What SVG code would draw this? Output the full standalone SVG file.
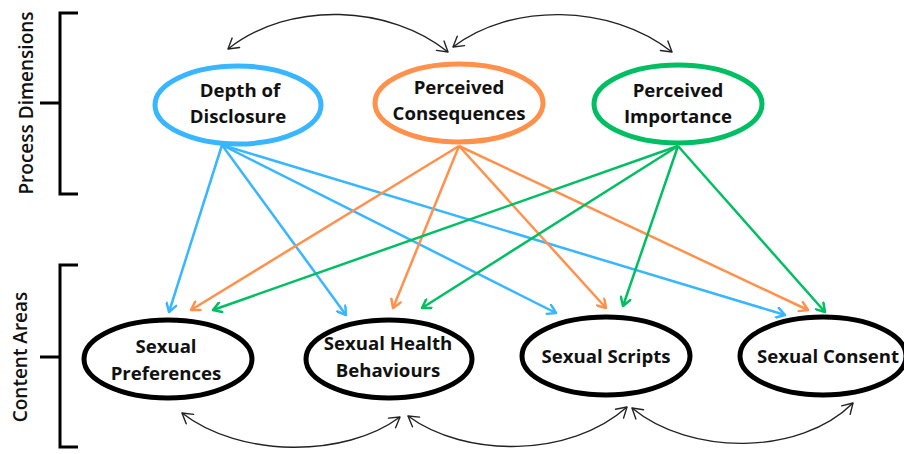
<svg xmlns="http://www.w3.org/2000/svg" width="904" height="454" viewBox="0 0 904 454">
  <style>
    .lbl { font-family: "Open Sans", "Liberation Sans", sans-serif; font-weight: 700; font-size: 18.6px; fill: #111; text-anchor: middle; }
    .side { font-family: "Open Sans", "Liberation Sans", sans-serif; font-weight: 600; font-size: 19px; fill: #111; text-anchor: middle; }
    .bracket { fill: none; stroke: #000; stroke-width: 3; }
    .node { fill: #fff; stroke-width: 5; }
    .blue { stroke: #38b6ff; }
    .orange { stroke: #ff914d; }
    .green { stroke: #00bf63; }
    .black { stroke: #000; }
    .link { fill: none; stroke-width: 2.5; }
    .arc { fill: none; stroke: #222; stroke-width: 1.4; }
  </style>
  <defs>
    <marker id="hBlue" viewBox="0 0 12 12" refX="10" refY="6" markerWidth="12" markerHeight="12" markerUnits="userSpaceOnUse" orient="auto">
      <polyline points="2,1 10,6 2,11" fill="none" stroke="#38b6ff" stroke-width="2.5" stroke-linecap="round" stroke-linejoin="round"/>
    </marker>
    <marker id="hOrange" viewBox="0 0 12 12" refX="10" refY="6" markerWidth="12" markerHeight="12" markerUnits="userSpaceOnUse" orient="auto">
      <polyline points="2,1 10,6 2,11" fill="none" stroke="#ff914d" stroke-width="2.5" stroke-linecap="round" stroke-linejoin="round"/>
    </marker>
    <marker id="hGreen" viewBox="0 0 12 12" refX="10" refY="6" markerWidth="12" markerHeight="12" markerUnits="userSpaceOnUse" orient="auto">
      <polyline points="2,1 10,6 2,11" fill="none" stroke="#00bf63" stroke-width="2.5" stroke-linecap="round" stroke-linejoin="round"/>
    </marker>
    <marker id="hBlack" viewBox="0 0 14 14" refX="12" refY="7" markerWidth="14" markerHeight="14" markerUnits="userSpaceOnUse" orient="auto-start-reverse">
      <polyline points="2,1 12,7 2,13" fill="none" stroke="#222" stroke-width="1.4" stroke-linecap="round" stroke-linejoin="round"/>
    </marker>
  </defs>

  <rect width="904" height="454" fill="#fff"/>

  <!-- side brackets and group labels -->
  <g id="process-dimensions">
    <path class="bracket" d="M78,13 H60 V194 H78 M40,103 H60"/>
    <text class="side" transform="translate(33,103) rotate(-90)">Process Dimensions</text>
  </g>
  <g id="content-areas">
    <path class="bracket" d="M78,265 H60 V447 H78 M40,357 H60"/>
    <text class="side" transform="translate(27,357) rotate(-90)">Content Areas</text>
  </g>

  <!-- connectors -->
  <g id="connectors">
    <!-- from Depth of Disclosure -->
    <line class="link blue" x1="222" y1="145" x2="169" y2="312" marker-end="url(#hBlue)"/>
    <line class="link blue" x1="222" y1="145" x2="346" y2="315" marker-end="url(#hBlue)"/>
    <line class="link blue" x1="222" y1="145" x2="556" y2="313" marker-end="url(#hBlue)"/>
    <line class="link blue" x1="222" y1="145" x2="785" y2="315" marker-end="url(#hBlue)"/>
    <!-- from Perceived Consequences -->
    <line class="link orange" x1="459" y1="146" x2="191" y2="310" marker-end="url(#hOrange)"/>
    <line class="link orange" x1="459" y1="146" x2="393" y2="308" marker-end="url(#hOrange)"/>
    <line class="link orange" x1="459" y1="146" x2="606" y2="308" marker-end="url(#hOrange)"/>
    <line class="link orange" x1="459" y1="146" x2="808" y2="310" marker-end="url(#hOrange)"/>
    <!-- from Perceived Importance -->
    <line class="link green" x1="678" y1="146" x2="213" y2="310" marker-end="url(#hGreen)"/>
    <line class="link green" x1="678" y1="146" x2="422" y2="308" marker-end="url(#hGreen)"/>
    <line class="link green" x1="678" y1="146" x2="623" y2="306" marker-end="url(#hGreen)"/>
    <line class="link green" x1="678" y1="146" x2="825" y2="312" marker-end="url(#hGreen)"/>

    <!-- two-way arcs between process dimensions -->
    <path class="arc" d="M228,49 C290,0 390,5 448,52" marker-start="url(#hBlack)" marker-end="url(#hBlack)"/>
    <path class="arc" d="M453,47 C510,3 610,3 672,52" marker-start="url(#hBlack)" marker-end="url(#hBlack)"/>

    <!-- two-way arcs between content areas -->
    <path class="arc" d="M182,413 C240,458 345,458 400,417" marker-start="url(#hBlack)" marker-end="url(#hBlack)"/>
    <path class="arc" d="M408,416 C465,458 570,458 627,407" marker-start="url(#hBlack)" marker-end="url(#hBlack)"/>
    <path class="arc" d="M632,408 C690,456 800,456 853,403" marker-start="url(#hBlack)" marker-end="url(#hBlack)"/>
  </g>

  <!-- process dimensions -->
  <g id="depth-of-disclosure">
    <ellipse class="node blue" cx="238" cy="105" rx="83" ry="39"/>
    <text class="lbl" x="240" y="97">Depth of</text>
    <text class="lbl" x="238" y="123">Disclosure</text>
  </g>
  <g id="perceived-consequences">
    <ellipse class="node orange" cx="459" cy="103" rx="84" ry="39"/>
    <text class="lbl" x="459" y="94">Perceived</text>
    <text class="lbl" x="459" y="120">Consequences</text>
  </g>
  <g id="perceived-importance">
    <ellipse class="node green" cx="678" cy="104" rx="84" ry="39"/>
    <text class="lbl" x="678" y="97">Perceived</text>
    <text class="lbl" x="678" y="123">Importance</text>
  </g>

  <!-- content areas -->
  <g id="sexual-preferences">
    <ellipse class="node black" cx="168" cy="359" rx="84" ry="39"/>
    <text class="lbl" x="166" y="353">Sexual</text>
    <text class="lbl" x="166" y="380">Preferences</text>
  </g>
  <g id="sexual-health-behaviours">
    <ellipse class="node black" cx="389" cy="359" rx="83" ry="39"/>
    <text class="lbl" x="388" y="350">Sexual Health</text>
    <text class="lbl" x="388" y="377">Behaviours</text>
  </g>
  <g id="sexual-scripts">
    <ellipse class="node black" cx="606" cy="356" rx="84" ry="39"/>
    <text class="lbl" x="606" y="363">Sexual Scripts</text>
  </g>
  <g id="sexual-consent">
    <ellipse class="node black" cx="823" cy="356" rx="83" ry="39"/>
    <text class="lbl" x="828" y="363">Sexual Consent</text>
  </g>
</svg>
